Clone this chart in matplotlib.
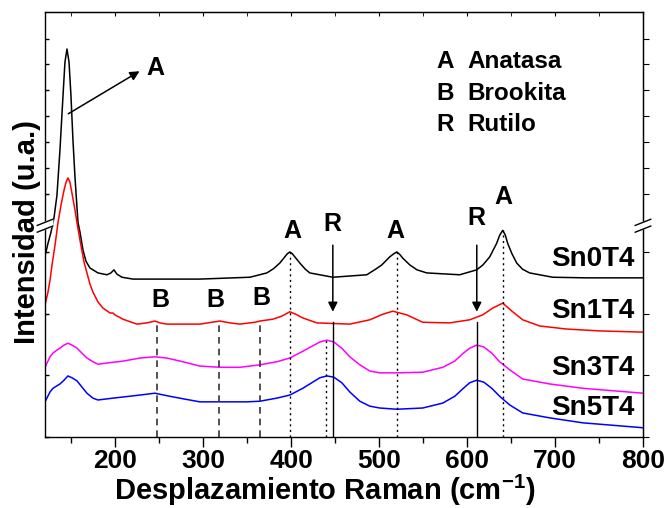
#!/usr/bin/env python3
"""Raman spectra of Sn-doped TiO2 samples (stacked, broken intensity axis)."""

import matplotlib
matplotlib.use('Agg')
import matplotlib.pyplot as plt

plt.rcParams['font.family'] = ['Liberation Sans', 'DejaVu Sans']
plt.rcParams['font.weight'] = 'bold'
plt.rcParams['mathtext.fontset'] = 'custom'
plt.rcParams['mathtext.rm'] = 'Liberation Sans:bold'
plt.rcParams['mathtext.bf'] = 'Liberation Sans:bold'
plt.rcParams['mathtext.default'] = 'bf'

# --- spectra (Raman shift in cm-1, stacked intensity in a.u.) ---
sn0_x = [120, 123.4, 126.8, 130.2, 133.6, 137.0, 140.5, 142.7, 145.0, 147.3,
         149.5, 151.8, 154.1, 157.5, 159.8, 163.2, 166.6, 171.1, 180.2, 190.5,
         195.0, 198.4, 201.8, 207.5, 220.0, 296.1, 353.0, 372.3, 380.0, 387.0,
         392.7, 395.5, 398.4, 401.3, 404.1, 409.8, 416.0, 421.1, 447.3, 485.9,
         497.0, 503.0, 512.0, 516.5, 520.0, 523.4, 526.8, 534.8, 543.0, 554.1,
         591.6, 610.9, 618.0, 625.7, 633.6, 637.0, 640.5, 643.5, 646.1, 651.0,
         656.4, 663.0, 671.1, 697.3, 735.9, 800]
sn0_y = [2.93, 3.14, 3.32, 3.55, 3.92, 4.65, 5.54, 6.08, 6.29, 6.08,
         5.54, 4.81, 4.21, 3.48, 3.32, 3.03, 2.85, 2.74, 2.66, 2.63,
         2.66, 2.71, 2.64, 2.59, 2.56, 2.56, 2.59, 2.66, 2.73, 2.82,
         2.92, 2.97, 3.00, 2.97, 2.92, 2.82, 2.72, 2.66, 2.59, 2.63,
         2.73, 2.79, 2.92, 2.97, 3.00, 2.96, 2.90, 2.79, 2.71, 2.66,
         2.63, 2.71, 2.79, 2.92, 3.14, 3.27, 3.35, 3.27, 3.14, 2.97,
         2.82, 2.72, 2.66, 2.59, 2.58, 2.58]

sn1_x = [120, 123.4, 125.7, 128.0, 131.4, 134.8, 138.2, 141.6, 143.9, 146.1,
         148.4, 150.7, 154.1, 156.4, 159.8, 164.3, 167.7, 171.1, 174.5, 180.2,
         185.9, 193.9, 197.3, 199.5, 208.6, 224.5, 235.9, 245.0, 250.7, 258.6,
         296.1, 318.9, 330.2, 341.6, 358.6, 364.3, 379.1, 389.3, 398.4, 405.2,
         413.2, 429.1, 466.6, 489.3, 504.1, 515.5, 523.4, 531.4, 549.5, 580.2,
         603.0, 617.7, 629.1, 640.5, 651.8, 663.2, 682.5, 713.2, 750.7, 800]
sn1_y = [2.14, 2.35, 2.54, 2.79, 3.11, 3.48, 3.76, 4.00, 4.13, 4.20,
         4.13, 3.95, 3.68, 3.47, 3.19, 2.84, 2.66, 2.48, 2.35, 2.19,
         2.09, 2.01, 2.01, 1.98, 1.91, 1.83, 1.85, 1.88, 1.85, 1.83,
         1.83, 1.88, 1.85, 1.83, 1.86, 1.88, 1.91, 1.96, 2.03, 1.99,
         1.93, 1.85, 1.83, 1.90, 1.99, 2.04, 2.01, 1.98, 1.86, 1.85,
         1.90, 1.98, 2.09, 2.17, 2.03, 1.90, 1.80, 1.75, 1.72, 1.70]

sn3_x = [120, 125.7, 129.1, 133.6, 137.0, 141.6, 146.1, 150.7, 156.4, 162.0,
         167.7, 174.5, 180.2, 190.5, 208.6, 228.0, 245.0, 258.6, 276.8, 296.1,
         318.9, 341.6, 364.3, 383.6, 398.4, 413.2, 423.4, 432.5, 440.5, 448.4,
         457.5, 466.6, 478.0, 489.3, 500.7, 520.0, 549.5, 572.3, 585.9, 595.0,
         603.0, 610.9, 618.9, 628.0, 637.0, 648.4, 663.2, 693.9, 731.4, 800]
sn3_y = [1.13, 1.30, 1.36, 1.41, 1.44, 1.49, 1.52, 1.49, 1.44, 1.36,
         1.28, 1.22, 1.18, 1.20, 1.23, 1.28, 1.30, 1.28, 1.22, 1.15,
         1.13, 1.13, 1.17, 1.22, 1.28, 1.39, 1.47, 1.54, 1.57, 1.54,
         1.44, 1.30, 1.17, 1.07, 1.04, 1.04, 1.05, 1.13, 1.23, 1.35,
         1.44, 1.49, 1.46, 1.36, 1.22, 1.09, 0.94, 0.86, 0.79, 0.71]

sn5_x = [120, 125.7, 129.1, 133.6, 137.0, 141.6, 146.1, 150.7, 156.4, 162.0,
         167.7, 174.5, 180.2, 197.3, 228.0, 245.0, 262.0, 276.8, 296.1, 318.9,
         349.5, 364.3, 383.6, 398.4, 413.2, 423.4, 432.5, 440.5, 448.4, 457.5,
         466.6, 478.0, 489.3, 500.7, 520.0, 549.5, 572.3, 585.9, 595.0, 603.0,
         610.9, 618.9, 628.0, 637.0, 648.4, 663.2, 693.9, 731.4, 800]
sn5_y = [0.57, 0.73, 0.79, 0.83, 0.86, 0.92, 0.99, 0.96, 0.91, 0.81,
         0.71, 0.63, 0.60, 0.63, 0.68, 0.71, 0.66, 0.62, 0.57, 0.57,
         0.57, 0.58, 0.63, 0.68, 0.79, 0.88, 0.96, 0.99, 0.97, 0.88,
         0.73, 0.58, 0.50, 0.47, 0.45, 0.47, 0.55, 0.66, 0.78, 0.88,
         0.92, 0.89, 0.79, 0.66, 0.52, 0.39, 0.31, 0.23, 0.15]

sample_names = ['Sn0T4', 'Sn1T4', 'Sn3T4', 'Sn5T4']
sample_colors = ['black', 'red', 'magenta', 'blue']
sample_label_y = [2.88, 2.04, 1.12, 0.47]

# phase markers
anatase_pos = [398.4, 520.0, 640.5]
anatase_top = [3.00, 3.00, 3.35]
brookite_pos = [247.3, 318.2, 365.0]
brookite_top = [1.86, 1.86, 1.88]
rutile_pos = [447.3, 611.0]
rutile_magenta_pos = 440.0

legend_letters = ['A', 'B', 'R']
legend_names = ['Anatasa', 'Brookita', 'Rutilo']

y_ticks = [0, 1, 2, 3, 3.94, 4.36, 4.78, 5.20, 5.62, 6.04, 6.46]
y_break = 3.48

fig = plt.figure(figsize=(6.66, 5.08), dpi=100)
ax = fig.add_axes([45 / 666, 1 - 437 / 508, 598 / 666, 425 / 508])

for xs, ys, c in zip([sn0_x, sn1_x, sn3_x, sn5_x], [sn0_y, sn1_y, sn3_y, sn5_y], sample_colors):
    ax.plot(xs, ys, color=c, linewidth=1.1)

for name, yl in zip(sample_names, sample_label_y):
    ax.text(790, yl, name, ha='right', va='center', fontsize=20, fontweight='bold')

# anatase: dotted guide lines + labels
for xp, top in zip(anatase_pos, anatase_top):
    ax.plot([xp, xp], [0, top], color='black', linestyle=(0, (1.5, 2.5)), linewidth=1.0)
ax.text(401.8, 3.34, 'A', ha='center', va='center', fontsize=18)
ax.text(518.9, 3.34, 'A', ha='center', va='center', fontsize=18)
ax.text(641.6, 3.89, 'A', ha='center', va='center', fontsize=18)

# brookite: dashed guide lines + labels
for xp, top in zip(brookite_pos, brookite_top):
    ax.plot([xp, xp], [0, top], color='#333333', linestyle=(0, (4, 3)), linewidth=1.2)
ax.text(250.7, 2.22, 'B', ha='center', va='center', fontsize=18)
ax.text(314.3, 2.22, 'B', ha='center', va='center', fontsize=18)
ax.text(366.6, 2.25, 'B', ha='center', va='center', fontsize=18)

# rutile: arrows + guide lines
ax.plot([rutile_magenta_pos, rutile_magenta_pos], [0, 1.57], color='black',
        linestyle=(0, (1.5, 2.5)), linewidth=1.0)
for xp in rutile_pos:
    ax.plot([xp, xp], [0, 1.86], color='black', linewidth=1.0)
    ax.annotate('', xy=(xp, 2.03), xytext=(xp, 3.11),
                arrowprops=dict(arrowstyle='-|>', color='black', lw=1.1,
                                mutation_scale=14, shrinkA=0, shrinkB=0))
ax.text(447.3, 3.45, 'R', ha='center', va='center', fontsize=18)
ax.text(610.9, 3.55, 'R', ha='center', va='center', fontsize=18)

# main anatase peak arrow
ax.annotate('', xy=(227.5, 5.93), xytext=(146.5, 5.24),
            arrowprops=dict(arrowstyle='-|>', color='black', lw=1.1,
                            mutation_scale=14, shrinkA=0, shrinkB=0))
ax.text(245, 5.98, 'A', ha='center', va='center', fontsize=18)

# phase legend
for i, (let, nm) in enumerate(zip(legend_letters, legend_names)):
    yl = 6.08 - i * 0.505
    ax.text(565, yl, let, ha='left', va='center', fontsize=17.5)
    ax.text(600.7, yl, nm, ha='left', va='center', fontsize=17.5)

ax.set_xlim(120, 800)
ax.set_ylim(0, 6.89)
ax.set_xticks([200, 300, 400, 500, 600, 700, 800])
ax.set_xticks(list(range(150, 800, 100)), minor=True)
ax.set_yticks(y_ticks)
ax.set_yticklabels([])
ax.tick_params(axis='x', which='major', direction='out', length=7, width=1.0,
               labelsize=19, pad=2)
ax.tick_params(axis='x', which='minor', direction='out', length=4, width=1.0)
ax.tick_params(axis='y', direction='in', length=3, width=1.0)
for lab in ax.get_xticklabels():
    lab.set_fontweight('bold')

top = ax.secondary_xaxis('top')
top.set_xticks([200, 300, 400, 500, 600, 700, 800])
top.set_xticks(list(range(150, 800, 100)), minor=True)
top.tick_params(axis='x', which='both', direction='in', length=3, labeltop=False)
right = ax.secondary_yaxis('right')
right.set_yticks(y_ticks)
right.tick_params(axis='y', direction='out', length=4, labelright=False)

for sp in ax.spines.values():
    sp.set_linewidth(1.0)

# axis break marks on both sides
for xc in (0.0, 1.0):
    dx = 0.013
    ax.fill([xc - dx, xc + dx, xc + dx, xc - dx],
            [y_break - 0.05, y_break + 0.05, y_break - 0.06, y_break - 0.16],
            color='white', transform=ax.get_yaxis_transform(), clip_on=False, zorder=5)
    for off in (0.0, -0.11):
        ax.plot([xc - dx, xc + dx], [y_break - 0.05 + off, y_break + 0.05 + off],
                color='black', linewidth=1.0, transform=ax.get_yaxis_transform(),
                clip_on=False, zorder=6)

fig.text(325 / 666, 1 - 490 / 508, 'Desplazamiento Raman (cm$^{-1}$)',
         ha='center', va='center', fontsize=21, fontweight='bold')
fig.text(27 / 666, 1 - 232 / 508, 'Intensidad (u.a.)', rotation=90,
         ha='center', va='center', fontsize=21, fontweight='bold')

plt.savefig('out.png', dpi=100)
